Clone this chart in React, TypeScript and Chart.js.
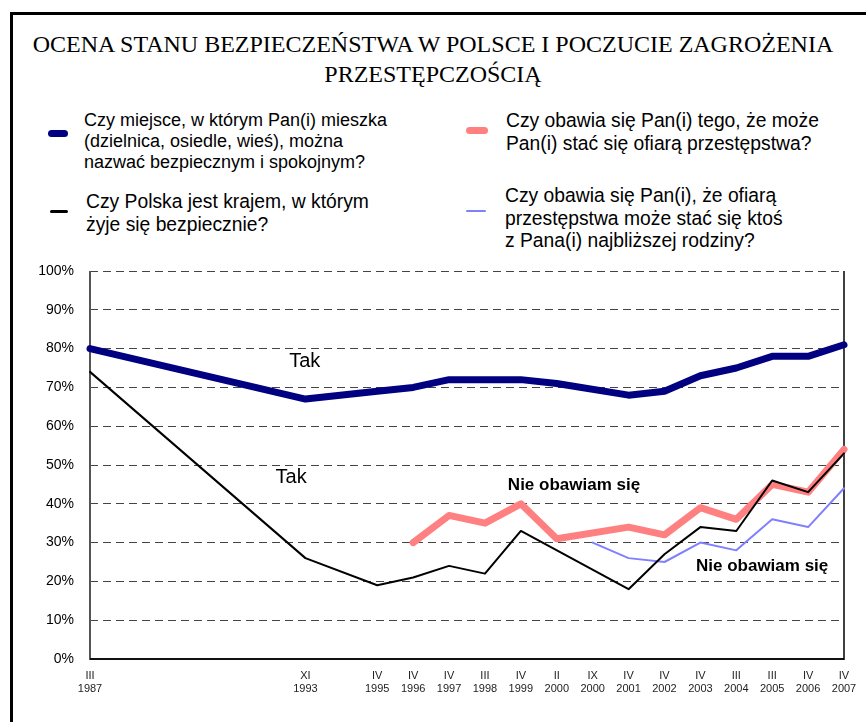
import React, { useEffect, useRef } from 'react';
import { Chart, registerables } from 'chart.js';

Chart.register(...registerables);

// Survey waves (month in Roman numerals, year); empty entries are spacer slots
const months = ['III', '', '', '', '', '', 'XI', '', 'IV', 'IV', 'IV', 'III', 'IV', 'II', 'IX', 'IV', 'IV', 'IV', 'III', 'III', 'IV', 'IV'];
const years = ['1987', '', '', '', '', '', '1993', '', '1995', '1996', '1997', '1998', '1999', '2000', '2000', '2001', '2002', '2003', '2004', '2005', '2006', '2007'];

// "Tak" – neighbourhood safe and calm
const safePlace = [80, null, null, null, null, null, 67, null, 69, 70, 72, 72, 72, 71, null, 68, 69, 73, 75, 78, 78, 81];
// "Tak" – Poland is a safe country
const safeCountry = [74, null, null, null, null, null, 26, null, 19, 21, 24, 22, 33, null, null, 18, 27, 34, 33, 46, 43, 53];
// "Nie obawiam się" – afraid of becoming a victim
const fearSelf = [null, null, null, null, null, null, null, null, null, 30, 37, 35, 40, 31, null, 34, 32, 39, 36, 45, 43, 54];
// "Nie obawiam się" – afraid someone from family becomes a victim
const fearFamily = [null, null, null, null, null, null, null, null, null, null, null, null, null, null, 30, 26, 25, 30, 28, 36, 34, 44];

const yMin = 0;
const yMax = 100;
const yStep = 10;

const annotations = [
  { text: 'Tak', x: 5.98, y: 76.8, bold: false },
  { text: 'Tak', x: 5.6, y: 46.9, bold: false },
  { text: 'Nie obawiam się', x: 13.48, y: 44.8, bold: true },
  { text: 'Nie obawiam się', x: 18.72, y: 24.0, bold: true },
];

const SANS = '"Liberation Sans", Arial, sans-serif';

const framePlugin = {
  id: 'framePlugin',
  beforeDatasetsDraw(chart: any) {
    const { ctx, chartArea } = chart;
    const { left, right, top, bottom } = chartArea;
    ctx.save();
    ctx.lineCap = 'butt';
    ctx.strokeStyle = '#555';
    ctx.lineWidth = 2;
    ctx.beginPath();
    ctx.moveTo(left, top);
    ctx.lineTo(left, bottom + 1);
    ctx.stroke();
    ctx.strokeStyle = '#111';
    ctx.lineWidth = 2;
    ctx.beginPath();
    ctx.moveTo(left, bottom);
    ctx.lineTo(right, bottom);
    ctx.stroke();
    ctx.strokeStyle = '#000';
    ctx.lineWidth = 1.5;
    ctx.beginPath();
    ctx.moveTo(right, top);
    ctx.lineTo(right, bottom + 1);
    ctx.stroke();
    ctx.restore();
  },
  afterDatasetsDraw(chart: any) {
    const { ctx } = chart;
    const xs = chart.scales.x;
    const ys = chart.scales.y;
    ctx.save();
    ctx.fillStyle = '#000';
    ctx.textAlign = 'center';
    ctx.textBaseline = 'middle';
    annotations.forEach((a) => {
      ctx.font = a.bold ? `bold 17px ${SANS}` : `20px ${SANS}`;
      ctx.fillText(a.text, xs.getPixelForValue(a.x), ys.getPixelForValue(a.y));
    });
    ctx.restore();
  },
};

function LegendItem(props: {
  x: number;
  y: number;
  lines: string[];
  color: string;
  thick: number;
  mx: number;
  mw: number;
  my: number;
  size: number;
  lh: number;
}) {
  return (
    <>
      <div
        style={{
          position: 'absolute',
          left: props.mx,
          top: props.my - props.thick / 2,
          width: props.mw,
          height: props.thick,
          background: props.color,
          borderRadius: props.thick / 2,
        }}
      />
      <div
        style={{
          position: 'absolute',
          left: props.x,
          top: props.y,
          fontFamily: SANS,
          fontSize: props.size,
          lineHeight: `${props.lh}px`,
          color: '#000',
          whiteSpace: 'nowrap',
        }}
      >
        {props.lines.map((l, i) => (
          <div key={i}>{l}</div>
        ))}
      </div>
    </>
  );
}

export default function App() {
  const canvasRef = useRef<HTMLCanvasElement | null>(null);

  useEffect(() => {
    document.body.style.margin = '0';
    const labels = months.map((m, i) => (m || years[i] ? [m, years[i]] : ''));
    const chart = new Chart(canvasRef.current as HTMLCanvasElement, {
      type: 'line',
      data: {
        labels,
        datasets: [
          {
            label: 'Czy miejsce, w którym Pan(i) mieszka...',
            data: safePlace,
            borderColor: '#000080',
            borderWidth: 7,
            order: 1,
          },
          {
            label: 'Czy Polska jest krajem, w którym żyje się bezpiecznie?',
            data: safeCountry,
            borderColor: '#000000',
            borderWidth: 2,
            order: 2,
          },
          {
            label: 'Czy obawia się Pan(i) tego, że może Pan(i) stać się ofiarą przestępstwa?',
            data: fearSelf,
            borderColor: '#FF8080',
            borderWidth: 7,
            order: 4,
          },
          {
            label: 'Czy obawia się Pan(i), że ofiarą przestępstwa może stać się ktoś z Pana(i) najbliższej rodziny?',
            data: fearFamily,
            borderColor: '#8080FF',
            borderWidth: 2,
            order: 3,
          },
        ].map((d) => ({
          ...d,
          fill: false,
          tension: 0,
          pointRadius: 0,
          pointHoverRadius: 0,
          spanGaps: true,
          clip: false as any,
          borderCapStyle: 'round' as const,
          borderJoinStyle: 'round' as const,
        })),
      },
      options: {
        animation: false,
        responsive: false,
        maintainAspectRatio: false,
        events: [],
        layout: { padding: { top: 271, left: 0, right: 22, bottom: 0 } },
        plugins: {
          legend: { display: false },
          title: { display: false },
          tooltip: { enabled: false },
        },
        scales: {
          x: {
            type: 'category',
            offset: false,
            grid: { display: false, drawTicks: false },
            border: { display: false },
            ticks: {
              autoSkip: false,
              maxRotation: 0,
              minRotation: 0,
              padding: 10,
              color: '#222',
              font: { family: SANS, size: 11, lineHeight: 1.2 },
            },
            afterFit(scale: any) {
              scale.height = 63;
              scale.paddingLeft = 0;
              scale.paddingRight = 0;
            },
          },
          y: {
            min: yMin,
            max: yMax,
            grid: {
              drawTicks: false,
              color: '#444',
              lineWidth: 1,
            },
            border: { display: false, dash: [8, 5] },
            ticks: {
              stepSize: yStep,
              padding: 16,
              color: '#000',
              font: { family: SANS, size: 14 },
              callback: (v: any) => `${v}%`,
            },
            afterFit(scale: any) {
              scale.width = 90;
            },
          },
        },
      },
      plugins: [framePlugin],
    });
    return () => chart.destroy();
  }, []);

  return (
    <div style={{ position: 'relative', width: 866, height: 722, overflow: 'hidden', background: '#fff' }}>
      <div
        style={{
          position: 'absolute',
          left: 10,
          top: 12,
          width: 900,
          height: 800,
          borderLeft: '3px solid #000',
          borderTop: '3px solid #000',
        }}
      />
      <div
        style={{
          position: 'absolute',
          left: 0,
          width: 866,
          top: 29,
          textAlign: 'center',
          fontFamily: '"Liberation Serif", "Times New Roman", serif',
          fontSize: 24,
          lineHeight: '30px',
          color: '#000',
        }}
      >
        <div>OCENA STANU BEZPIECZEŃSTWA W POLSCE I POCZUCIE ZAGROŻENIA</div>
        <div>PRZESTĘPCZOŚCIĄ</div>
      </div>
      <LegendItem
        x={84}
        y={110}
        size={18}
        lh={21}
        lines={['Czy miejsce, w którym Pan(i) mieszka', '(dzielnica, osiedle, wieś), można', 'nazwać bezpiecznym i spokojnym?']}
        color="#000080"
        thick={7}
        mx={48}
        mw={20}
        my={133}
      />
      <LegendItem
        x={86}
        y={191}
        size={19.3}
        lh={22.5}
        lines={['Czy Polska jest krajem, w którym', 'żyje się bezpiecznie?']}
        color="#000000"
        thick={3}
        mx={50}
        mw={18}
        my={211}
      />
      <LegendItem
        x={506}
        y={110}
        size={19.3}
        lh={22.5}
        lines={['Czy obawia się Pan(i) tego, że może', 'Pan(i) stać się ofiarą przestępstwa?']}
        color="#FF8080"
        thick={7}
        mx={466}
        mw={22}
        my={130}
      />
      <LegendItem
        x={505}
        y={185}
        size={19.3}
        lh={22.5}
        lines={['Czy obawia się Pan(i), że ofiarą', 'przestępstwa może stać się ktoś', 'z Pana(i) najbliższej rodziny?']}
        color="#8080FF"
        thick={2}
        mx={466}
        mw={20}
        my={211}
      />
      <canvas ref={canvasRef} width={866} height={722} style={{ position: 'absolute', left: 0, top: 0 }} />
    </div>
  );
}
